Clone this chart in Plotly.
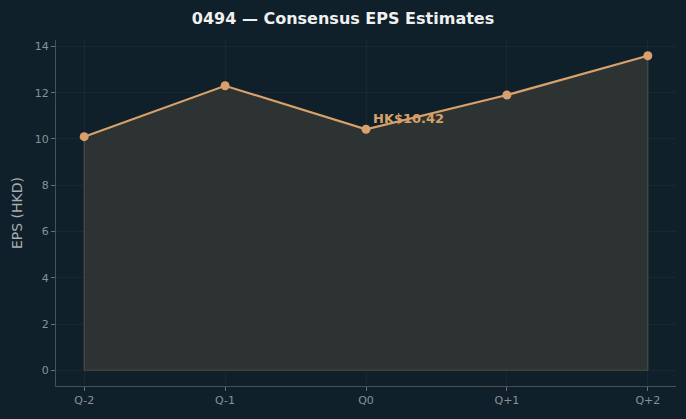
import plotly.graph_objects as go

quarters = ["Q-2", "Q-1", "Q0", "Q+1", "Q+2"]
eps = [10.1, 12.3, 10.42, 11.9, 13.6]
y_ticks = [0, 2, 4, 6, 8, 10, 12, 14]

bg = "#10202a"
line_col = "#d8a06a"
xs = list(range(len(quarters)))

fig = go.Figure()
# filled area polygon with edge
poly_x = [xs[0]] + xs + [xs[-1], xs[0]]
poly_y = [0] + eps + [0, 0]
fig.add_trace(go.Scatter(x=poly_x, y=poly_y, mode="lines", fill="toself",
                         fillcolor="rgba(46,52,51,0.97)",
                         line=dict(color="rgba(85,85,75,0.8)", width=1.2),
                         hoverinfo="skip", showlegend=False))
fig.add_trace(go.Scatter(x=xs, y=eps, mode="lines+markers",
                         line=dict(color=line_col, width=2.2),
                         marker=dict(color=line_col, size=9),
                         showlegend=False))
fig.add_annotation(x=xs[2], y=eps[2], text="<b>HK$10.42</b>", showarrow=False,
                   xanchor="left", yanchor="bottom", xshift=5, yshift=1,
                   font=dict(color=line_col, size=13, family="DejaVu Sans"))

fig.update_layout(
    width=686, height=419,
    paper_bgcolor=bg, plot_bgcolor=bg,
    margin=dict(l=56, r=10, t=40, b=33),
    font=dict(family="DejaVu Sans", color="#8a9096"),
    title=dict(text="<b>0494 — Consensus EPS Estimates</b>", x=0.5, xanchor="center",
               y=0.957, yanchor="middle",
               font=dict(size=16, color="#f0f0f0", family="DejaVu Sans")),
    xaxis=dict(range=[-0.2, 4.2], tickvals=xs, ticktext=quarters,
               showgrid=True, gridcolor="rgba(255,255,255,0.035)",
               zeroline=False, showline=True, linecolor="#4a4f52", linewidth=1,
               ticks="outside", ticklen=4, tickcolor="#6a6f72",
               tickfont=dict(size=11, color="#8a9096")),
    yaxis=dict(range=[-0.68, 14.28], tickvals=y_ticks,
               showgrid=True, gridcolor="rgba(255,255,255,0.035)",
               zeroline=False, showline=True, linecolor="#4a4f52", linewidth=1,
               ticks="outside", ticklen=4, tickcolor="#6a6f72",
               tickfont=dict(size=11, color="#8a9096"),
               title=dict(text="EPS (HKD)", font=dict(size=14, color="#a8adb0"), standoff=8)),
)

fig.write_html("out.html")
